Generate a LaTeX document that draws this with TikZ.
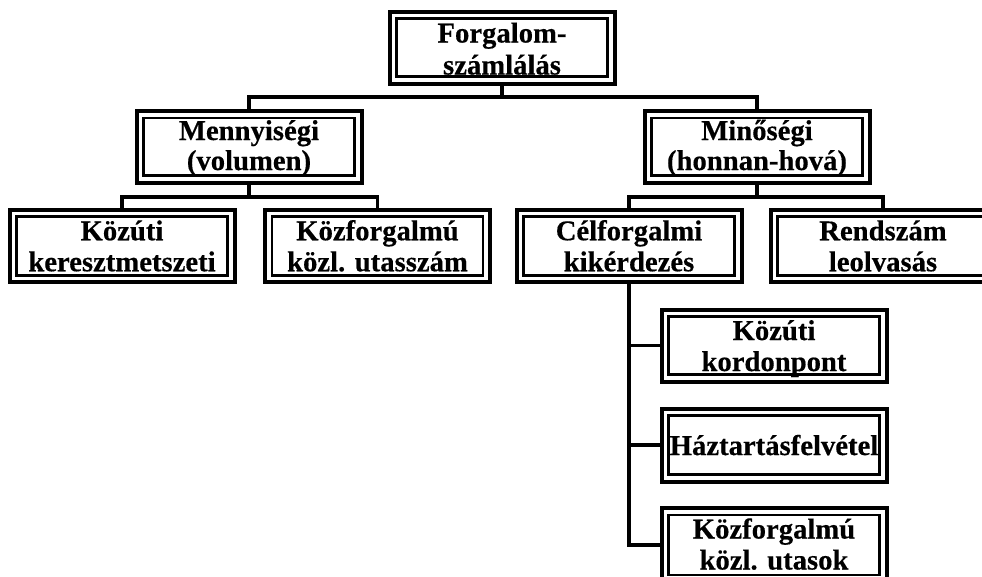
\documentclass[tikz,border=0pt]{standalone}
\usepackage{fontspec}
\setmainfont{Liberation Serif}[BoldFeatures={FakeBold=0.4}]
\usetikzlibrary{calc}
\newcommand\dbox[4]{%
  \node[obox, minimum height=#4*0.75pt] (#1) at (#2,#3) {};
  \draw[ibox] ($(#1.north west)+(7,7)$) rectangle ($(#1.south east)+(-7,-7)$);
}
\newcommand\ttext[5]{%
  \node[txt] (#1-a) at ($(#1.north)+(0,#4)$) {#2};
  \node[txt] (#1-b) at ($(#1.north)+(0,#5)$) {#3};
}
\begin{document}
\begin{tikzpicture}[x=0.75pt,y=-0.75pt,
  obox/.style={draw, line width=3pt, minimum width=168.75pt, inner sep=0pt, outer sep=0pt, fill=white},
  ibox/.style={draw, line width=2pt},
  txt/.style={font=\fontsize{21.5}{23}\selectfont\bfseries, inner sep=0pt, anchor=base},
  conn/.style={draw, line width=2.8pt, line join=miter}]
\useasboundingbox (0,0) rectangle (982,576);
\clip (0,0) rectangle (982,576);
\fill[white] (0,0) rectangle (982,576);

\dbox{top}{502}{47.5}{72}
\dbox{men}{249}{146.75}{71.5}
\dbox{min}{757}{146.75}{71.5}
\dbox{kozut}{122}{246}{72.5}
\dbox{kozf}{377.5}{246}{72.5}
\dbox{celf}{629}{246}{72.5}
\dbox{rend}{883}{246}{72.5}
\dbox{kord}{774}{345.5}{72}
\dbox{haz}{774}{445}{73}
\dbox{utas}{774}{545}{74}

\ttext{top}{Forgalom-}{számlálás}{31}{63}
\ttext{men}{Mennyiségi}{(volumen)}{29}{59}
\ttext{min}{Minőségi}{(honnan-hová)}{29}{59}
\ttext{kozut}{Közúti}{keresztmetszeti}{30.5}{61.5}
\ttext{kozf}{Közforgalmú}{közl. utasszám}{30.5}{61.5}
\ttext{celf}{Célforgalmi}{kikérdezés}{30.5}{61.5}
\ttext{rend}{Rendszám}{leolvasás}{30.5}{61.5}
\ttext{kord}{Közúti}{kordonpont}{30.5}{61.5}
\node[txt] (haz-a) at ($(haz.center)+(0,10)$) {Háztartásfelvétel};
\ttext{utas}{Közforgalmú}{közl. utasok}{30.5}{61.5}

\coordinate (j0) at (502,97);
\draw[conn] (top.south) -- (j0);
\draw[conn] (men.north) |- (j0) -| (min.north);
\coordinate (j1) at (249,197);
\draw[conn] (men.south) -- (j1);
\draw[conn] (kozut.north) |- (j1) -| (kozf.north);
\coordinate (j2) at (757,197);
\draw[conn] (min.south) -- (j2);
\draw[conn] (celf.north) |- (j2) -| (rend.north);
\draw[conn] (celf.south) |- (utas.west);
\draw[conn] (celf.south |- kord.west) -- (kord.west);
\draw[conn] (celf.south |- haz.west) -- (haz.west);
\end{tikzpicture}
\end{document}
